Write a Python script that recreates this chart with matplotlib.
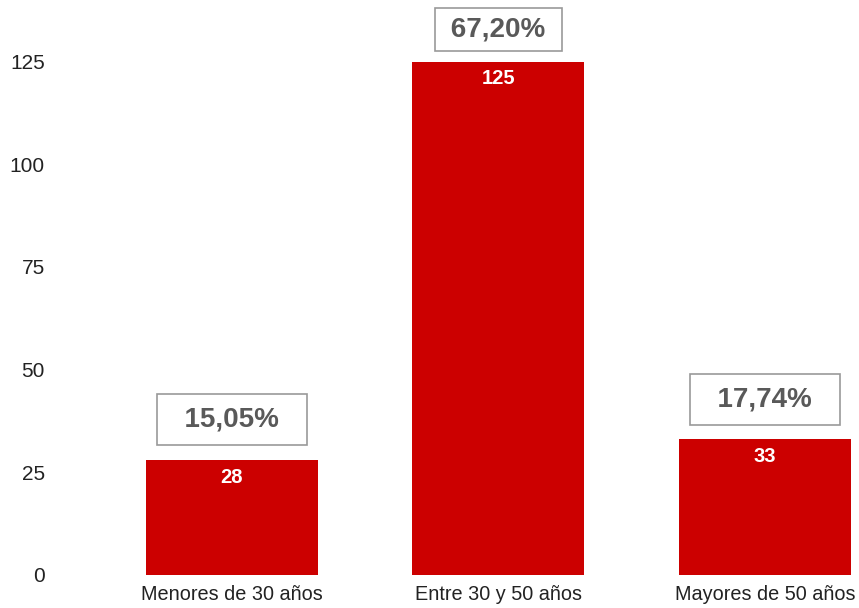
import matplotlib.pyplot as plt
import numpy as np

categories = ['Menores de 30 años', 'Entre 30 y 50 años', 'Mayores de 50 años']
counts = [28, 125, 33]
percent_labels = ['15,05%', '67,20%', '17,74%']
y_ticks = [0, 25, 50, 75, 100, 125]

plt.rcParams['font.family'] = ['Liberation Sans', 'DejaVu Sans']

fig = plt.figure(figsize=(8.59, 6.08), dpi=100)
ax = fig.add_axes([60 / 859, 33 / 608, 799 / 859, 575 / 608])

x = np.arange(len(categories))
ax.bar(x, counts, width=0.645, color='#cc0000', zorder=2)

for xi, c, p in zip(x, counts, percent_labels):
    ax.annotate(str(c), (xi, c), xytext=(0, -12.5), textcoords='offset points',
                ha='center', va='center', color='white', fontsize=14.5,
                fontweight='bold')
    # the middle box is squeezed at the top of the chart in the reference
    if c == max(counts):
        txt, off, pad = ' ' + p + ' ', 23, 0.3
    else:
        txt, off, pad = '  ' + p + '  ', 29, 0.45
    ax.annotate(txt, (xi, c), xytext=(0, off), textcoords='offset points',
                ha='center', va='center', color='#595959', fontsize=20,
                fontweight='bold', annotation_clip=False,
                bbox=dict(boxstyle='square,pad=%s' % pad, fc='white', ec='#999999', lw=1.2))

ax.set_xlim(-0.645, 2.353)
ax.set_ylim(0, 140)
ax.set_xticks(x)
ax.set_xticklabels(categories, fontsize=14.3, color='#222222')
ax.set_yticks(y_ticks)
ax.set_yticklabels([str(t) for t in y_ticks], fontsize=15, color='#222222')
ax.tick_params(axis='both', length=0)
ax.tick_params(axis='y', pad=11)
ax.tick_params(axis='x', pad=7)
for s in ax.spines.values():
    s.set_visible(False)

fig.savefig('out.png', dpi=100)
